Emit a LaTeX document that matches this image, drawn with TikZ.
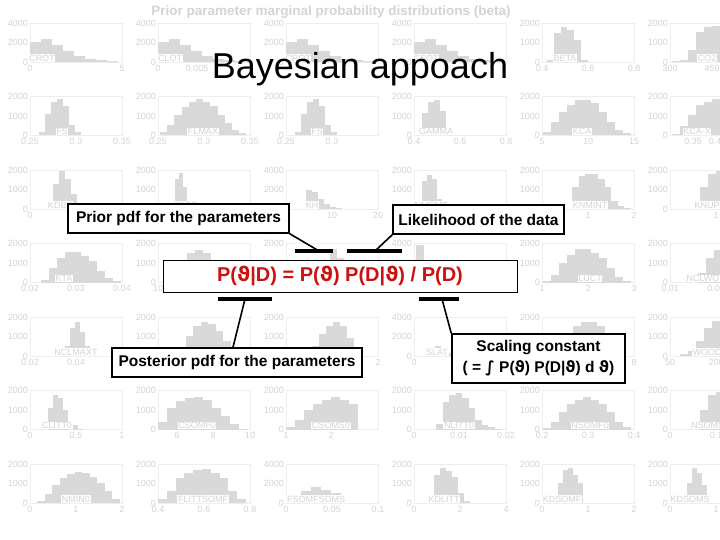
\documentclass[tikz,border=0pt]{standalone}
\usepackage{fontspec}
\setmainfont{Liberation Sans}
\newfontfamily\symfont{DejaVu Sans}
\usetikzlibrary{positioning,calc}
\definecolor{cBar}{HTML}{D9D9D9}
\definecolor{cTick}{HTML}{D4D4D4}
\definecolor{cFrame}{HTML}{EEEEEE}
\definecolor{cEq}{HTML}{CC1111}
\newcommand{\vth}{{\symfont ϑ}}

\begin{document}
\begin{tikzpicture}[
  x=1pt, y=-1pt,
  bar/.style={fill=cBar},
  frame/.style={draw=cFrame, line width=0.5pt},
  ytick/.style={font=\fontsize{9}{9}\selectfont, text=cTick, anchor=east, inner sep=1pt},
  xtick/.style={font=\fontsize{9}{9}\selectfont, text=cTick, anchor=north, inner sep=1pt},
  tag/.style={font=\fontsize{9}{9}\selectfont, text=cTick, fill=white, anchor=south, inner sep=0.7pt},
  bgtitle/.style={font=\bfseries\fontsize{13.5}{14}\selectfont, text=cTick},
  title/.style={font=\fontsize{36}{40}\selectfont, anchor=base},
  note/.style={draw, line width=1.5pt, fill=white, inner sep=2pt, font=\bfseries\fontsize{15.5}{21}\selectfont},
  eqbox/.style={draw, line width=1pt, fill=white, minimum width=354pt, minimum height=32pt, text=cEq, font=\bfseries\fontsize{20}{22}\selectfont},
  brk/.style={line width=4pt},
  lead/.style={line width=1.6pt},
]
\useasboundingbox (0,0) rectangle (720,540);
\fill[white] (0,0) rectangle (720,540);

% ---------- faded background: prior marginals ----------
\begin{scope}
\clip (0,0) rectangle (720,540);
\node[bgtitle] (bgt) at (331,12) {Prior parameter marginal probability distributions (beta)};
\foreach \col/\row/\nm/\ym/\off/\bw/\hts/\lx/\tk in {
  1/1/CROT/4/0/11/{20,23,17,11,6,3,2,1}/12/{0/0,92/5},
  2/1/CLOT/4/0/11/{20,23,17,11,6,3,2,1}/12/{0/0,39/0.005},
  3/1/CROT/4/0/11/{20,23,17,11,6,3,2,1}/12/{0/{}},
  4/1/CSOT/4/0/11/{20,23,17,11,6,3,2,1}/12/{0/{}},
  5/1/BETA/2/5/6.8/{2,29,35,32,22,2}/23/{0/0.4,46/0.6,92/0.8},
  6/1/CO2/2/2/8/{1,2,12,30,35,36}/37/{0/300,42/450},
  1/2/FS/2/9/6/{3,21,33,36,29,10,3}/32/{0/0.25,46/0.3,92/0.35},
  2/2/FLMAX/2/2/7.2/{3,10,20,28,33,36,33,29,20,12,5,2}/45/{0/0.25,46/0.3,92/0.35},
  3/2/FS/2/9/6/{3,21,33,36,29,10,3}/31/{0/0.25,46/0.3},
  4/2/GAMMA/2/8/6/{22,33,35,24}/22/{0/0.4,46/0.6,92/0.8},
  5/2/KCA/2/1/8/{3,13,23,30,35,35,32,23,13,5,2}/40/{0/5,46/10,92/15},
  6/2/KCA-X/2/2/8/{1,9,20,30,33,36}/27/{23/0.35,45/0.4},
  1/3/KDBT/2/23/6/{25,38,30,15,5,2}/30/{0/0},
  2/3/KDRT/2/17/4/{30,36,22,8,2}/27/{0/{}},
  3/3/KH/4/20/6/{19,17,10,5,2,1}/26/{46/10,92/20},
  4/3/NMEMT/2/8/5/{28,34,30,10,3}/17/{0/0},
  5/3/KNMINT/2/30/6.5/{22,33,35,35,30,22,8,3,1}/48/{46/1,92/2},
  6/3/KNUP/2/30/8/{22,35,38}/37/{46/1},
  1/4/KTA/2/11/8/{3,15,25,31,31,27,22,12,5,2}/34/{0/0.02,46/0.03,92/0.04},
  2/4/KTD/2/5/8/{3,12,22,30,33,30,22,12,5}/44/{0/10,46/20,92/30},
  3/4//2/30/7/{5,20,34,25,10}/40/{0/0,46/0.5,92/1},
  4/4//4/2/8/{38,22,10,5,2}/30/{0/4,46/6,92/8},
  5/4/LUCT/2/1/8/{2,8,20,28,34,34,30,25,15,6,2}/48/{0/1,46/2,92/3},
  6/4/NCLWO/2/28/8/{10,25,33,36}/33/{0/0.01,46/0.02},
  1/5/NCLMAXT/2/35/5/{10,28,34,24,10}/46/{0/0.02,46/0.04},
  2/5/NCBT/2/20/7.5/{8,20,30,34,32,25,15,8}/49/{0/{}},
  3/5/NCVOT/2/26/7/{10,22,30,34,30,18,8}/41/{92/2},
  4/5/SLAT/4/15/6/{8,10,6,3}/23/{0/0,46/2},
  5/5//2/15/8/{5,20,30,34,34,30,20}/40/{92/8},
  6/5/WOOD/2/10/8/{2,5,15,28,35}/37/{0/50,46/200},
  1/6/CLITT0/2/18/5/{22,35,32,20,0,5,1}/27/{0/0,46/0.5,92/1},
  2/6/CSOMF0/2/0/9/{8,22,29,32,33,30,22,14,6,1}/39/{19/6,55/8,92/10},
  3/6/CSOMS0/2/0/9/{3,10,20,26,30,33,30,26}/45/{0/1,45/2},
  4/6/NLITT0/2/22/6.5/{6,28,35,37,32,22,10,5,3,1}/45/{0/0,45/0.01,92/0.02},
  5/6/NSOMF0/2/1/8/{2,8,18,26,30,33,30,26,18,8,3}/48/{0/0.2,46/0.3,92/0.4},
  6/6/NSOMS0/2/30/8/{20,35,38}/40/{0/0,46/0.1},
  1/7/NMIN0/2/7/7.5/{2,9,18,25,29,31,30,26,20,12,4}/46/{0/0,46/1,92/2},
  2/7/FLITTSOMF/2/0/8.8/{4,12,25,30,33,34,30,25,12,4}/45/{0/0.4,46/0.6,92/0.8},
  3/7/FSOMFSOMS/4/15/10/{12,16,13,10}/30/{0/0,46/0.05,92/0.1},
  4/7/KDLITT/2/20/6/{28,35,32,26,10,2}/30/{0/0,46/2,92/4},
  5/7/KDSOMF/2/16/5/{20,33,35,28,20}/20/{0/0,46/1,92/2},
  6/7/KDSOMS/2/17/5/{20,35,30,18}/20/{0/0,46/1}} {
  \pgfmathsetmacro\px{30+128*(\col-1)}
  \pgfmathsetmacro\py{23+73.5*(\row-1)}
  \pgfmathsetmacro\pb{\py+39}
  \pgfmathtruncatemacro\ya{\ym*500}
  \pgfmathtruncatemacro\yb{\ym*1000}
  \draw[frame] (\px,\py) rectangle (\px+92,\pb);
  \foreach \hv [count=\i from 0] in \hts
    \fill[bar] (\px+\off+\bw*\i,\pb) rectangle ++(\bw,-\hv);
  \node[ytick] at (\px-1,\pb) {0};
  \node[ytick] at (\px-1,\py+19.5) {\ya};
  \node[ytick] at (\px-1,\py) {\yb};
  \node[tag] at (\px+\lx,\pb) {\nm};
  \foreach \tx/\tl in \tk
    \node[xtick] at (\px+\tx,\pb+2) {\tl};
}
\end{scope}

% ---------- foreground ----------
\node[title] (ttl) at (360,79) {Bayesian appoach};

\node[note, minimum width=221pt, minimum height=29pt] (prior) at (178.5,218.5) {Prior pdf for the parameters};
\node[note, minimum width=171pt, minimum height=29pt] (like) at (478.5,219.5) {Likelihood of the data};
\node[eqbox] (eq) at (340,276) {P(\vth|D) = P(\vth) P(D|\vth) / P(D)};
\node[note, minimum width=250pt, minimum height=29pt] (post) at (237,362.5) {Posterior pdf for the parameters};
\node[note, minimum width=173pt, minimum height=49pt, align=center] (scal) at (538.5,358.5)
  {Scaling constant\\( = {\symfont ∫} P(\vth) P(D|\vth) d \vth )};

% brackets under/over the terms
\coordinate (b1l) at (295,251); \coordinate (b1r) at (333,251); \coordinate (b1m) at (319,251);
\coordinate (b2l) at (347,251); \coordinate (b2r) at (402,251); \coordinate (b2m) at (375,251);
\coordinate (b3l) at (218,299); \coordinate (b3r) at (272,299); \coordinate (b3m) at (245,299);
\coordinate (b4l) at (419,299); \coordinate (b4r) at (459,299); \coordinate (b4m) at (442,299);
\draw[brk] (b1l) -- (b1r);
\draw[brk] (b2l) -- (b2r);
\draw[brk] (b3l) -- (b3r);
\draw[brk] (b4l) -- (b4r);

\draw[lead] (prior.south east) -- (b1m);
\draw[lead] (like.south west) -- (b2m);
\draw[lead] (b3m) -- ($(post.north)+(-4,0)$);
\draw[lead] (b4m) -- (scal.north west);
\end{tikzpicture}
\end{document}
